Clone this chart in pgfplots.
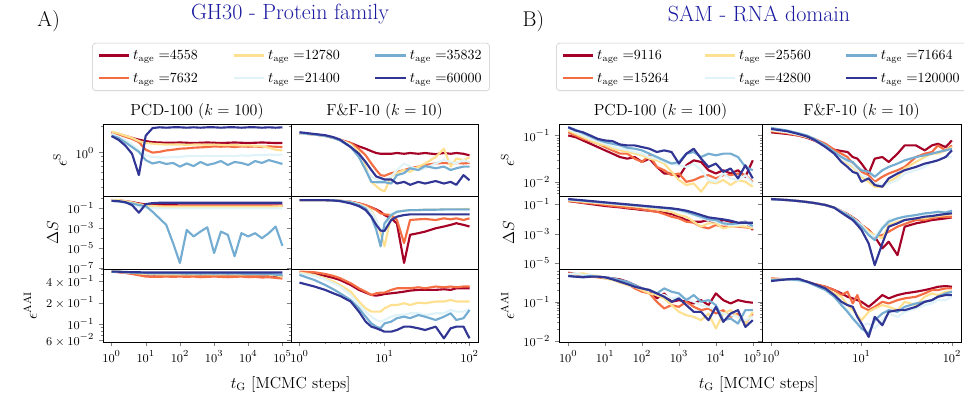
\documentclass[border=0pt]{standalone}
\usepackage{pgfplots}
\usepackage{pgfplotstable}
\pgfplotsset{compat=1.18}
\definecolor{cR}{HTML}{A50026}
\definecolor{cO}{HTML}{F46D43}
\definecolor{cY}{HTML}{FEE090}
\definecolor{cL}{HTML}{E0F3F8}
\definecolor{cB}{HTML}{74ADD1}
\definecolor{cD}{HTML}{313695}
\definecolor{ttl}{RGB}{26,26,160}

\pgfplotstableread{
x r o w l b d
1 1.72 1.69 1.75 1.64 1.57 1.55
1.585 1.64 1.62 1.67 1.53 1.48 1.41
2.512 1.56 1.53 1.57 1.41 1.32 1.21
3.981 1.48 1.44 1.48 1.24 1.16 0.97
6.31 1.41 1.32 1.36 1.06 1.02 0.55
10 1.36 1.08 1.29 0.93 0.82 1.57
15.85 1.32 1.00 1.27 0.89 0.75 1.92
25.12 1.31 1.02 1.25 0.88 0.78 1.96
39.81 1.30 1.06 1.24 0.88 0.74 1.94
63.1 1.30 1.08 1.24 0.89 0.76 1.96
100 1.31 1.11 1.24 0.89 0.69 1.96
158.5 1.30 1.12 1.23 0.91 0.75 1.94
251.2 1.29 1.14 1.24 0.915 0.70 1.96
398.1 1.30 1.15 1.24 0.91 0.78 1.94
631 1.31 1.16 1.23 0.92 0.72 1.96
1000 1.30 1.18 1.24 0.91 0.75 1.96
1585 1.29 1.17 1.23 0.915 0.80 1.94
2512 1.30 1.18 1.22 0.92 0.72 1.96
3981 1.31 1.16 1.22 0.91 0.78 1.96
6310 1.30 1.18 1.21 0.93 0.76 1.94
10000 1.29 1.17 1.21 0.92 0.72 1.96
15850 1.30 1.18 1.20 0.94 0.80 1.96
25120 1.31 1.16 1.18 0.93 0.76 1.94
39810 1.30 1.18 1.14 0.95 0.82 1.96
63100 1.29 1.17 1.08 0.94 0.78 1.94
100000 1.29 1.16 1.06 0.95 0.74 1.96
}\tAa
\pgfplotstableread{
x r o w l b d
1 0.68 0.68 0.74 0.63 0.58 0.58
1.585 0.63 0.63 0.68 0.54 0.50 0.54
2.512 0.54 0.50 0.54 0.37 0.40 0.43
3.981 0.43 0.37 0.40 0.215 0.32 0.215
6.31 0.32 0.25 0.27 0.147 0.22 0.037
10 0.25 0.20 0.20 0.116 0.17 0.27
15.85 0.23 0.185 0.17 0.108 0.046 0.34
25.12 0.215 0.17 0.158 0.1 0.01 0.37
39.81 0.215 0.17 0.147 0.1 2.2e-3 0.37
63.1 0.215 0.17 0.147 0.1 3.2e-5 0.37
100 0.20 0.17 0.147 0.1 3.2e-7 0.37
158.5 0.20 0.17 0.147 0.1 6.8e-4 0.37
251.2 0.20 0.17 0.147 0.1 1.5e-4 0.37
398.1 0.20 0.17 0.147 0.1 4.6e-4 0.37
631 0.20 0.17 0.147 0.1 1.26e-3 0.37
1000 0.20 0.17 0.147 0.1 3.2e-6 0.37
1585 0.20 0.17 0.147 0.1 4.6e-4 0.37
2512 0.20 0.17 0.147 0.1 2.2e-4 0.37
3981 0.20 0.17 0.147 0.1 1.5e-6 0.37
6310 0.20 0.17 0.147 0.1 3.2e-4 0.37
10000 0.20 0.17 0.147 0.1 1.5e-4 0.37
15850 0.20 0.17 0.147 0.1 3.2e-4 0.37
25120 0.20 0.17 0.147 0.1 1e-4 0.37
39810 0.20 0.17 0.147 0.1 3.2e-4 0.37
63100 0.20 0.17 0.158 0.1 1.5e-3 0.37
100000 0.20 0.185 0.17 0.1 1.7e-5 0.37
}\tAb
\pgfplotstableread{
x r o w l b d
1 0.55 0.55 0.555 0.55 0.55 0.55
1.585 0.545 0.54 0.55 0.545 0.545 0.55
2.512 0.53 0.53 0.54 0.54 0.54 0.545
3.981 0.52 0.51 0.53 0.535 0.535 0.54
6.31 0.51 0.49 0.52 0.53 0.53 0.54
10 0.50 0.47 0.51 0.525 0.525 0.535
15.85 0.50 0.465 0.505 0.52 0.52 0.535
25.12 0.495 0.465 0.50 0.52 0.52 0.535
39.81 0.495 0.47 0.50 0.52 0.52 0.535
63.1 0.49 0.465 0.50 0.52 0.52 0.535
100 0.495 0.47 0.50 0.52 0.52 0.535
158.5 0.49 0.465 0.50 0.52 0.515 0.535
251.2 0.495 0.47 0.50 0.52 0.52 0.535
398.1 0.49 0.46 0.50 0.52 0.515 0.535
631 0.49 0.465 0.50 0.52 0.52 0.535
1000 0.495 0.47 0.50 0.52 0.515 0.535
1585 0.49 0.465 0.50 0.52 0.52 0.535
2512 0.495 0.46 0.50 0.52 0.515 0.535
3981 0.49 0.465 0.50 0.52 0.52 0.535
6310 0.49 0.47 0.50 0.52 0.515 0.535
10000 0.48 0.46 0.50 0.52 0.51 0.535
15850 0.49 0.465 0.50 0.515 0.515 0.535
25120 0.485 0.455 0.50 0.515 0.51 0.535
39810 0.49 0.46 0.50 0.515 0.51 0.535
63100 0.48 0.45 0.49 0.515 0.50 0.535
100000 0.48 0.44 0.47 0.515 0.49 0.535
}\tAc
\pgfplotstableread{
x r o w l b d
1 1.67 1.69 1.67 1.67 1.69 1.72
1.5 1.62 1.62 1.62 1.62 1.62 1.64
2 1.56 1.56 1.56 1.56 1.56 1.59
2.5 1.48 1.48 1.48 1.48 1.48 1.51
3 1.41 1.41 1.41 1.41 1.38 1.41
4 1.29 1.29 1.24 1.21 1.16 1.16
5 1.18 1.11 1.02 0.93 0.89 0.97
6 1.11 0.93 0.69 0.63 0.63 0.78
7 1.04 0.75 0.46 0.53 0.46 0.63
8 0.99 0.63 0.41 0.49 0.456 0.53
9 0.97 0.55 0.373 0.485 0.456 0.51
10 0.97 0.54 0.357 0.485 0.456 0.49
12 0.97 0.58 0.53 0.53 0.44 0.49
14 0.99 0.60 0.58 0.63 0.55 0.44
17 0.97 0.63 0.63 0.75 0.58 0.46
20 0.99 0.66 0.60 0.69 0.66 0.425
25 0.97 0.69 0.69 0.63 0.63 0.46
30 0.99 0.72 0.75 0.66 0.70 0.44
40 0.96 0.75 0.89 0.75 0.66 0.47
50 0.99 0.76 1.11 0.82 0.69 0.44
60 0.97 0.75 0.69 0.78 0.63 0.46
70 0.99 0.76 0.855 0.75 0.66 0.425
85 0.97 0.75 0.82 0.82 0.69 0.55
100 0.93 0.76 0.88 0.78 0.69 0.48
}\tAd
\pgfplotstableread{
x r o w l b d
1 0.68 0.68 0.68 0.68 0.68 0.68
1.5 0.68 0.68 0.68 0.68 0.68 0.68
2 0.68 0.68 0.68 0.68 0.68 0.68
2.5 0.63 0.63 0.63 0.63 0.63 0.63
3 0.58 0.58 0.58 0.58 0.58 0.54
4 0.46 0.46 0.43 0.43 0.40 0.32
5 0.32 0.32 0.27 0.25 0.215 0.17
6 0.20 0.215 0.147 0.126 0.1 0.068
7 0.126 0.126 0.068 0.046 0.0147 0.0147
8 0.079 0.068 0.0068 0.0068 6.8e-4 0.0022
9 0.046 0.032 3.2e-4 6.8e-4 1.5e-5 5.8e-4
10 0.0215 0.025 1.5e-5 6.8e-4 0.0032 5.4e-4
12 0.01 0.0215 0.0215 0.027 0.0215 0.0068
14 0.003 0.0068 0.046 0.046 0.046 0.0147
17 3.2e-7 3.2e-5 0.058 0.058 0.058 0.0215
20 2.2e-4 0.0068 0.068 0.063 0.068 0.025
25 3.2e-4 0.0079 0.068 0.068 0.068 0.025
30 4.6e-4 0.0086 0.074 0.068 0.074 0.025
40 0.001 0.0068 0.074 0.068 0.074 0.025
50 0.0015 0.01 0.079 0.068 0.079 0.025
60 0.0022 0.0079 0.079 0.068 0.079 0.025
70 0.0032 0.01 0.079 0.068 0.079 0.025
85 0.0022 0.0068 0.086 0.068 0.079 0.025
100 0.0015 0.01 0.086 0.068 0.079 0.025
}\tAe
\pgfplotstableread{
x r o w l b d
1 0.535 0.552 0.535 0.523 0.495 0.386
1.5 0.511 0.54 0.495 0.48 0.42 0.34
2 0.48 0.511 0.445 0.43 0.358 0.305
2.5 0.45 0.48 0.40 0.378 0.311 0.273
3 0.42 0.445 0.358 0.34 0.273 0.251
4 0.358 0.378 0.288 0.259 0.220 0.209
5 0.305 0.321 0.209 0.187 0.168 0.151
6 0.279 0.288 0.168 0.151 0.128 0.109
7 0.259 0.259 0.151 0.128 0.103 0.0927
8 0.253 0.273 0.151 0.115 0.0927 0.0879
9 0.259 0.279 0.151 0.109 0.0879 0.0832
10 0.267 0.279 0.168 0.115 0.103 0.0788
12 0.273 0.305 0.187 0.128 0.109 0.0788
14 0.279 0.321 0.187 0.135 0.122 0.0832
17 0.288 0.321 0.198 0.135 0.128 0.0927
20 0.298 0.321 0.187 0.143 0.122 0.0927
25 0.305 0.332 0.202 0.143 0.135 0.0879
30 0.305 0.321 0.198 0.135 0.128 0.0832
40 0.305 0.34 0.209 0.143 0.115 0.0927
50 0.311 0.332 0.209 0.143 0.128 0.0635
60 0.305 0.34 0.220 0.159 0.143 0.0879
70 0.321 0.332 0.209 0.151 0.115 0.0927
85 0.321 0.34 0.209 0.151 0.122 0.0927
100 0.321 0.34 0.209 0.163 0.159 0.0635
}\tAf
\pgfplotstableread{
x r o w l b d
1 0.1 0.117 0.128 0.138 0.150 0.150
1.585 0.0922 0.1 0.108 0.117 0.132 0.128
2.512 0.0784 0.085 0.0922 0.1 0.112 0.117
3.981 0.0667 0.0759 0.0784 0.085 0.0953 0.1
6.31 0.0567 0.0667 0.0667 0.0759 0.081 0.085
10 0.0482 0.0567 0.0615 0.0667 0.0723 0.0784
15.85 0.041 0.0482 0.0523 0.0586 0.0667 0.0759
25.12 0.0348 0.041 0.0482 0.0523 0.0615 0.0645
39.81 0.0321 0.041 0.0445 0.0498 0.0549 0.0615
63.1 0.0348 0.0321 0.041 0.0445 0.0523 0.0615
100 0.0273 0.0273 0.0378 0.041 0.0482 0.0567
158.5 0.0321 0.0378 0.0321 0.0348 0.041 0.0523
251.2 0.0214 0.0214 0.0296 0.0321 0.0348 0.0445
398.1 0.0155 0.0182 0.0252 0.0273 0.0296 0.0482
631 0.0155 0.0143 0.0168 0.0252 0.0252 0.0445
1000 0.0132 0.0155 0.0112 0.0232 0.0273 0.0252
1585 0.0232 0.0103 0.00879 0.0214 0.041 0.041
2512 0.0296 0.0112 0.00953 0.0252 0.0445 0.0523
3981 0.0273 0.0132 0.00635 0.0182 0.0348 0.0321
6310 0.0182 0.0143 0.0103 0.0112 0.041 0.0214
10000 0.0155 0.0122 0.00953 0.0103 0.0378 0.0252
15850 0.0182 0.0143 0.0112 0.0155 0.041 0.0168
25120 0.0155 0.0143 0.00879 0.0122 0.041 0.0198
39810 0.0182 0.0155 0.0112 0.0112 0.0348 0.0122
63100 0.0132 0.0143 0.0103 0.0143 0.0214 0.0232
100000 0.0296 0.0103 0.0081 0.00953 0.0182 0.0122
}\tBa
\pgfplotstableread{
x r o w l b d
1 0.159 0.159 0.177 0.196 0.206 0.217
1.585 0.136 0.144 0.159 0.177 0.186 0.196
2.512 0.117 0.123 0.144 0.159 0.168 0.177
3.981 0.1 0.111 0.129 0.144 0.151 0.159
6.31 0.0857 0.1 0.117 0.129 0.136 0.144
10 0.0733 0.0857 0.105 0.117 0.123 0.129
15.85 0.0661 0.0733 0.095 0.105 0.111 0.117
25.12 0.0596 0.0661 0.0857 0.095 0.1 0.105
39.81 0.0511 0.0566 0.0773 0.0857 0.090 0.095
63.1 0.0460 0.0511 0.0697 0.0773 0.0813 0.0857
100 0.0394 0.0437 0.0628 0.0697 0.0733 0.0773
158.5 0.0356 0.0356 0.0511 0.0628 0.0661 0.0697
251.2 0.0304 0.0304 0.0437 0.0566 0.0596 0.0628
398.1 0.0261 0.0212 0.0356 0.0511 0.0538 0.0566
631 0.0212 0.0140 0.0289 0.0437 0.0484 0.0511
1000 0.0140 0.0108 0.0181 0.0338 0.0415 0.0437
1585 0.00834 0.00644 0.0140 0.0235 0.0304 0.0356
2512 0.00644 0.00552 0.00644 0.0181 0.0201 0.0261
3981 0.00644 0.00297 0.00297 0.0108 0.0140 0.0181
6310 0.00834 0.00229 0.00498 0.00834 0.00925 0.0126
10000 0.00498 0.00384 0.00498 0.00644 0.00834 0.0108
15850 0.00834 0.00297 0.00229 0.00449 0.00498 0.00925
25120 0.00644 0.00329 0.00297 0.00384 0.00449 0.00752
39810 0.00498 0.00297 0.00329 0.00384 0.00498 0.00552
63100 0.00644 0.00267 0.00297 0.00498 0.00644 0.00552
100000 0.00177 0.00229 0.00229 0.00297 0.00329 0.00552
}\tBb
\pgfplotstableread{
x r o w l b d
1 0.546 0.525 0.476 0.505 0.45 0.45
1.585 0.505 0.505 0.505 0.525 0.432 0.432
2.512 0.476 0.45 0.525 0.476 0.432 0.416
3.981 0.45 0.432 0.476 0.476 0.45 0.432
6.31 0.432 0.416 0.45 0.432 0.432 0.432
10 0.416 0.392 0.392 0.416 0.416 0.416
15.85 0.392 0.37 0.356 0.37 0.392 0.37
25.12 0.37 0.356 0.304 0.322 0.356 0.322
39.81 0.322 0.292 0.265 0.292 0.322 0.281
63.1 0.265 0.218 0.240 0.240 0.265 0.240
100 0.218 0.180 0.198 0.218 0.218 0.218
158.5 0.198 0.163 0.163 0.198 0.198 0.198
251.2 0.122 0.1 0.148 0.163 0.163 0.163
398.1 0.163 0.0677 0.122 0.148 0.218 0.134
631 0.1 0.0823 0.0823 0.122 0.180 0.1
1000 0.110 0.0746 0.0557 0.134 0.163 0.122
1585 0.1 0.1 0.0458 0.122 0.110 0.0823
2512 0.0908 0.0746 0.0416 0.1 0.148 0.0557
3981 0.110 0.0614 0.0342 0.0823 0.1 0.0557
6310 0.0823 0.0677 0.0505 0.0746 0.110 0.0342
10000 0.163 0.0505 0.021 0.0614 0.0823 0.0746
15850 0.110 0.0614 0.0505 0.0505 0.0342 0.031
25120 0.0908 0.0416 0.0614 0.0458 0.0377 0.0505
39810 0.110 0.0505 0.0416 0.0416 0.0281 0.0614
63100 0.1 0.0281 0.0281 0.0342 0.0614 0.0231
100000 0.0944 0.0505 0.0557 0.0416 0.0614 0.0342
}\tBc
\pgfplotstableread{
x r o w l b d
1 0.117 0.124 0.128 0.132 0.145 0.138
1.5 0.108 0.112 0.117 0.117 0.128 0.124
2 0.1 0.1 0.105 0.105 0.112 0.108
2.5 0.0893 0.0922 0.0922 0.0953 0.1 0.0953
3 0.0784 0.085 0.081 0.081 0.085 0.081
4 0.0615 0.0667 0.0615 0.0567 0.0615 0.0567
5 0.0498 0.0498 0.0445 0.041 0.0445 0.041
6 0.0467 0.041 0.0321 0.0321 0.0348 0.0273
7 0.0445 0.0348 0.0252 0.0273 0.0296 0.0214
8 0.0348 0.0252 0.0214 0.0232 0.0273 0.0168
9 0.0321 0.0198 0.0168 0.0182 0.0214 0.0155
10 0.0252 0.0168 0.0132 0.0143 0.0182 0.0103
12 0.0155 0.0143 0.0103 0.0122 0.0168 0.0122
14 0.0321 0.0103 0.0081 0.00953 0.0132 0.00879
17 0.0348 0.0132 0.0081 0.00879 0.0182 0.0081
20 0.0273 0.0155 0.0103 0.00953 0.0214 0.0122
25 0.041 0.0182 0.0132 0.0112 0.0252 0.0155
30 0.0615 0.0214 0.0198 0.0155 0.0296 0.0182
40 0.0615 0.0348 0.0273 0.0182 0.0348 0.0214
50 0.0482 0.041 0.0348 0.0214 0.0378 0.0252
60 0.0615 0.0445 0.041 0.0273 0.041 0.0273
70 0.0667 0.0615 0.041 0.0296 0.0445 0.0296
85 0.0567 0.0482 0.0482 0.0348 0.0482 0.0348
100 0.0784 0.0615 0.0567 0.0348 0.0523 0.0482
}\tBd
\pgfplotstableread{
x r o w l b d
1 0.206 0.206 0.206 0.206 0.206 0.217
1.5 0.186 0.186 0.186 0.186 0.186 0.186
2 0.159 0.159 0.159 0.159 0.159 0.159
2.5 0.136 0.136 0.136 0.136 0.136 0.136
3 0.117 0.117 0.117 0.117 0.117 0.117
4 0.0857 0.0857 0.0857 0.0857 0.0857 0.0857
5 0.0566 0.0566 0.0566 0.0566 0.0566 0.0566
6 0.0338 0.0338 0.0338 0.0338 0.0304 0.0261
7 0.0212 0.0181 0.0201 0.0181 0.0181 0.0140
8 0.0126 0.0108 0.0120 0.0108 0.0108 0.00834
9 0.00752 0.00644 0.00644 0.00644 0.00498 0.00384
10 0.00384 0.00384 0.00384 0.00384 0.00297 0.00177
12 0.00177 0.00177 0.00136 0.00105 8.1e-4 2.2e-4
14 6.3e-4 6.3e-4 8.1e-4 6.3e-4 3.7e-4 7.7e-6
17 1.03e-4 8.1e-4 4.8e-4 0.00297 0.00229 2.2e-4
20 2.9e-4 0.00136 0.00384 0.00834 0.00644 0.00297
25 3.6e-5 0.00297 0.00644 0.0108 0.0108 0.00498
30 0.00297 0.00449 0.00834 0.0140 0.0140 0.00834
40 0.00498 0.00834 0.0108 0.0181 0.0181 0.0108
50 0.00644 0.00834 0.0108 0.0212 0.0235 0.0140
60 0.00834 0.0108 0.0140 0.0235 0.0261 0.0155
70 0.00925 0.0140 0.0155 0.0261 0.0304 0.0181
85 0.0108 0.0140 0.0181 0.0289 0.0261 0.0212
100 0.0126 0.0140 0.0212 0.0304 0.0356 0.0235
}\tBe
\pgfplotstableread{
x r o w l b d
1 0.37 0.392 0.37 0.356 0.356 0.335
1.5 0.37 0.37 0.37 0.37 0.37 0.37
2 0.356 0.356 0.356 0.342 0.356 0.385
2.5 0.322 0.322 0.322 0.304 0.322 0.322
3 0.281 0.281 0.265 0.265 0.265 0.281
4 0.240 0.240 0.218 0.198 0.198 0.218
5 0.198 0.198 0.163 0.134 0.134 0.148
6 0.163 0.148 0.134 0.0908 0.0823 0.1
7 0.134 0.180 0.0823 0.0614 0.0557 0.0823
8 0.122 0.0908 0.0614 0.0416 0.0377 0.0746
9 0.110 0.148 0.0458 0.0281 0.0281 0.0416
10 0.1 0.0746 0.0342 0.0255 0.021 0.0281
12 0.0746 0.0614 0.0557 0.0281 0.0157 0.0129
14 0.1 0.0746 0.0677 0.021 0.0342 0.0416
17 0.148 0.1 0.0823 0.0342 0.0505 0.0255
20 0.122 0.0908 0.0746 0.0505 0.0614 0.0557
25 0.148 0.110 0.0614 0.0416 0.0557 0.0614
30 0.163 0.122 0.1 0.0557 0.0746 0.0614
40 0.180 0.134 0.0823 0.0677 0.0908 0.0746
50 0.198 0.163 0.134 0.0823 0.1 0.1
60 0.218 0.198 0.163 0.0908 0.110 0.110
70 0.240 0.198 0.148 0.110 0.134 0.134
85 0.25 0.218 0.180 0.110 0.163 0.148
100 0.240 0.218 0.180 0.134 0.180 0.148
}\tBf

\newcommand{\six}[1]{%
\addplot[cR, line width=1.6pt, line join=round] table[x=x,y=r]{#1};
\addplot[cO, line width=1.6pt, line join=round] table[x=x,y=o]{#1};
\addplot[cY, line width=1.6pt, line join=round] table[x=x,y=w]{#1};
\addplot[cL, line width=1.6pt, line join=round] table[x=x,y=l]{#1};
\addplot[cB, line width=1.6pt, line join=round] table[x=x,y=b]{#1};
\addplot[cD, line width=1.6pt, line join=round] table[x=x,y=d]{#1};}

\pgfplotsset{scale only axis, tick align=outside, tick pos=left,
   major tick length=3.2pt, minor tick length=1.8pt,
   tick label style={font=\fontsize{9.5}{11}\selectfont},
   label style={font=\fontsize{12}{14}\selectfont},
   title style={font=\fontsize{12}{14}\selectfont, yshift=-6pt},
   legend image code/.code={\draw[#1] (0pt,0pt) -- (23pt,0pt);}}

\begin{document}
\begin{tikzpicture}
\useasboundingbox (0,0) rectangle (723pt,296.25pt);

% ===== Panel A =====
\begin{axis}[xmode=log, ymode=log, anchor=south west, width=141pt, height=54pt, at={(77.25pt,149.25pt)},
  ymin=0.316, ymax=2.14, ytick={1}, minor ytick={0.4,0.5,0.6,0.7,0.8,0.9,2},
  xmin=0.5623, xmax=177828, xtick={1,10,100,1000,10000,100000}, xminorticks=false,
  xticklabels={}, xmajorticks=false,
  legend columns=2, transpose legend, legend cell align=left,
  legend style={at={(1,1.458)}, anchor=south, draw=black!22, rounded corners=2.5pt,
     font=\fontsize{10.5}{12}\selectfont, row sep=4.5pt, inner xsep=4pt, inner ysep=3pt,
     /tikz/every even column/.append style={column sep=24pt}},
  ylabel={$\epsilon^{\mathrm{S}}$}, title={PCD-100 ($k=100$)}]
\six{\tAa}
\legend{$t_{\mathrm{age}}\;{=}$4558,$t_{\mathrm{age}}\;{=}$7632,$t_{\mathrm{age}}\;{=}$12780,$t_{\mathrm{age}}\;{=}$21400,$t_{\mathrm{age}}\;{=}$35832,$t_{\mathrm{age}}\;{=}$60000}
\end{axis}
\begin{axis}[xmode=log, ymode=log, anchor=south west, width=140.25pt, height=54pt, at={(218.25pt,149.25pt)},
  ymin=0.316, ymax=2.14, ytick={1}, minor ytick={0.4,0.5,0.6,0.7,0.8,0.9,2}, yticklabels={},
  xmin=0.7943, xmax=125.89, xtick={1,10,100}, xticklabels={}, xmajorticks=false, xminorticks=false,
  title={F\&F-10 ($k=10$)}]
\six{\tAd}
\end{axis}
\begin{axis}[xmode=log, ymode=log, anchor=south west, width=141pt, height=54.75pt, at={(77.25pt,94.5pt)},
  ymin=7.9e-8, ymax=1.78, ytick={1e-7,1e-5,1e-3,1e-1}, minor ytick={1e-6,1e-4,1e-2,1},
  xmin=0.5623, xmax=177828, xtick={1,10,100,1000,10000,100000}, xticklabels={}, xmajorticks=false, xminorticks=false,
  ylabel={$\Delta S$}]
\six{\tAb}
\end{axis}
\begin{axis}[xmode=log, ymode=log, anchor=south west, width=140.25pt, height=54.75pt, at={(218.25pt,94.5pt)},
  ymin=7.9e-8, ymax=1.78, ytick={1e-7,1e-5,1e-3,1e-1}, minor ytick={1e-6,1e-4,1e-2,1}, yticklabels={},
  xmin=0.7943, xmax=125.89, xtick={1,10,100}, xticklabels={}, xmajorticks=false, xminorticks=false]
\six{\tAe}
\end{axis}
\begin{axis}[xmode=log, ymode=log, anchor=south west, width=141pt, height=54.75pt, at={(77.25pt,39.75pt)},
  ymin=0.0564, ymax=0.60, ytick={0.06,0.1,0.2,0.4},
  yticklabels={$6\times10^{-2}$,$10^{-1}$,$2\times10^{-1}$,$4\times10^{-1}$},
  minor ytick={0.07,0.08,0.09,0.3,0.5,0.6},
  xmin=0.5623, xmax=177828, xtick={1,10,100,1000,10000,100000}, xminorticks=false,
  ylabel={$\epsilon^{\mathrm{AAI}}$}]
\six{\tAc}
\end{axis}
\begin{axis}[xmode=log, ymode=log, anchor=south west, width=140.25pt, height=54.75pt, at={(218.25pt,39.75pt)},
  ymin=0.0564, ymax=0.60, ytick={0.06,0.1,0.2,0.4}, yticklabels={},
  minor ytick={0.07,0.08,0.09,0.3,0.5,0.6},
  xmin=0.7943, xmax=125.89, xtick={1,10,100},
  minor xtick={2,3,4,5,6,7,8,9,20,30,40,50,60,70,80,90}]
\six{\tAf}
\end{axis}

% ===== Panel B =====
\begin{axis}[xmode=log, ymode=log, anchor=south west, width=152.25pt, height=54pt, at={(419.25pt,149.25pt)},
  ymin=0.00514, ymax=0.176, ytick={0.01,0.1},
  minor ytick={0.006,0.007,0.008,0.009,0.02,0.03,0.04,0.05,0.06,0.07,0.08,0.09},
  xmin=0.5623, xmax=177828, xtick={1,10,100,1000,10000,100000}, xminorticks=false,
  xticklabels={}, xmajorticks=false,
  legend columns=2, transpose legend, legend cell align=left,
  legend style={at={(1,1.458)}, anchor=south, draw=black!22, rounded corners=2.5pt,
     font=\fontsize{10.5}{12}\selectfont, row sep=4.5pt, inner xsep=4pt, inner ysep=3pt,
     /tikz/every even column/.append style={column sep=24pt}},
  ylabel={$\epsilon^{\mathrm{S}}$}, title={PCD-100 ($k=100$)}]
\six{\tBa}
\legend{$t_{\mathrm{age}}\;{=}$9116,$t_{\mathrm{age}}\;{=}$15264,$t_{\mathrm{age}}\;{=}$25560,$t_{\mathrm{age}}\;{=}$42800,$t_{\mathrm{age}}\;{=}$71664,$t_{\mathrm{age}}\;{=}$120000}
\end{axis}
\begin{axis}[xmode=log, ymode=log, anchor=south west, width=149.25pt, height=54pt, at={(571.5pt,149.25pt)},
  ymin=0.00514, ymax=0.176, ytick={0.01,0.1}, yticklabels={},
  minor ytick={0.006,0.007,0.008,0.009,0.02,0.03,0.04,0.05,0.06,0.07,0.08,0.09},
  xmin=0.7943, xmax=125.89, xtick={1,10,100}, xticklabels={}, xmajorticks=false, xminorticks=false,
  title={F\&F-10 ($k=10$)}]
\six{\tBd}
\end{axis}
\begin{axis}[xmode=log, ymode=log, anchor=south west, width=152.25pt, height=54.75pt, at={(419.25pt,94.5pt)},
  ymin=4.2e-6, ymax=0.347, ytick={1e-5,1e-3,1e-1}, minor ytick={1e-4,1e-2},
  xmin=0.5623, xmax=177828, xtick={1,10,100,1000,10000,100000}, xticklabels={}, xmajorticks=false, xminorticks=false,
  ylabel={$\Delta S$}]
\six{\tBb}
\end{axis}
\begin{axis}[xmode=log, ymode=log, anchor=south west, width=149.25pt, height=54.75pt, at={(571.5pt,94.5pt)},
  ymin=4.2e-6, ymax=0.347, ytick={1e-5,1e-3,1e-1}, minor ytick={1e-4,1e-2}, yticklabels={},
  xmin=0.7943, xmax=125.89, xtick={1,10,100}, xticklabels={}, xmajorticks=false, xminorticks=false]
\six{\tBe}
\end{axis}
\begin{axis}[xmode=log, ymode=log, anchor=south west, width=152.25pt, height=54.75pt, at={(419.25pt,39.75pt)},
  ymin=0.0096, ymax=0.676, ytick={0.01,0.1},
  minor ytick={0.02,0.03,0.04,0.05,0.06,0.07,0.08,0.09,0.2,0.3,0.4,0.5,0.6},
  xmin=0.5623, xmax=177828, xtick={1,10,100,1000,10000,100000}, xminorticks=false,
  ylabel={$\epsilon^{\mathrm{AAI}}$}]
\six{\tBc}
\end{axis}
\begin{axis}[xmode=log, ymode=log, anchor=south west, width=149.25pt, height=54.75pt, at={(571.5pt,39.75pt)},
  ymin=0.0096, ymax=0.676, ytick={0.01,0.1}, yticklabels={},
  minor ytick={0.02,0.03,0.04,0.05,0.06,0.07,0.08,0.09,0.2,0.3,0.4,0.5,0.6},
  xmin=0.7943, xmax=125.89, xtick={1,10,100},
  minor xtick={2,3,4,5,6,7,8,9,20,30,40,50,60,70,80,90}]
\six{\tBf}
\end{axis}

\node[font=\fontsize{16}{19}\selectfont] at (36.5pt,280.5pt) {A)};
\node[font=\fontsize{16.5}{19}\selectfont, text=ttl] at (217.5pt,286pt) {GH30 - Protein family};
\node[font=\fontsize{16}{19}\selectfont] at (400pt,280.5pt) {B)};
\node[font=\fontsize{16.5}{19}\selectfont, text=ttl] at (569.25pt,286pt) {SAM - RNA domain};
\node[font=\fontsize{12}{14}\selectfont] at (218pt,8pt) {$t_{\mathrm{G}}$ [MCMC steps]};
\node[font=\fontsize{12}{14}\selectfont] at (569pt,8pt) {$t_{\mathrm{G}}$ [MCMC steps]};
\end{tikzpicture}
\end{document}
